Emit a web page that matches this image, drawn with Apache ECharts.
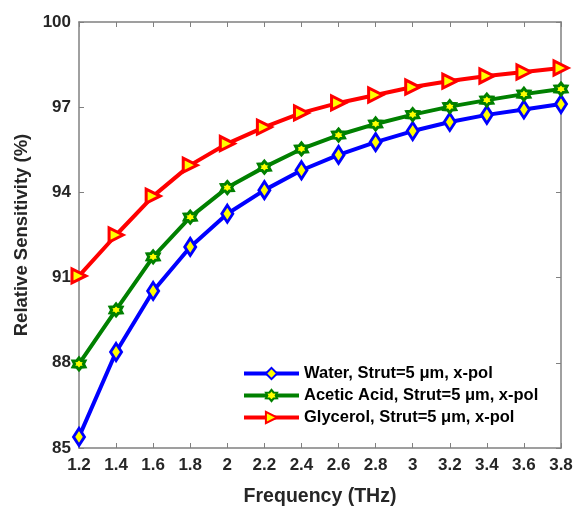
<!DOCTYPE html>
<html>
<head>
<meta charset="utf-8">
<script src="https://cdn.jsdelivr.net/npm/echarts@6/dist/echarts.min.js"></script>
<style>
  html, body { margin: 0; padding: 0; background: #fff; }
  #chart { width: 575px; height: 507px; }
</style>
</head>
<body>
<div id="chart"></div>
<script>
// frequency ticks (THz)
var freq = ['1.2', '1.4', '1.6', '1.8', '2', '2.2', '2.4', '2.6', '2.8', '3', '3.2', '3.4', '3.6', '3.8'];

// relative sensitivity (%)
var water = [85.39, 88.38, 90.53, 92.08, 93.25, 94.08, 94.78, 95.32, 95.77, 96.16, 96.48, 96.73, 96.92, 97.11];
var acetic = [87.96, 89.86, 91.73, 93.13, 94.17, 94.89, 95.53, 96.02, 96.41, 96.74, 97.02, 97.25, 97.46, 97.64];
var glycerol = [91.06, 92.5, 93.87, 94.96, 95.72, 96.3, 96.8, 97.15, 97.43, 97.71, 97.92, 98.1, 98.24, 98.38];

var hexagram = 'path://M0,-10L3.2,-5.5L8.66,-5L6.4,0L8.66,5L3.2,5.5L0,10L-3.2,5.5L-8.66,5L-6.4,0L-8.66,-5L-3.2,-5.5Z';

var myChart = echarts.init(document.getElementById('chart'));

var font = { fontFamily: 'Liberation Sans', fontWeight: 'bold', color: '#262626' };
var axisGray = '#808080';

function line(name, data, color, symbol, size, rotate) {
    return {
        name: name,
        type: 'line',
        data: data,
        symbol: symbol,
        symbolSize: size,
        symbolRotate: rotate,
        showAllSymbol: true,
        lineStyle: { color: color, width: 4 },
        itemStyle: { color: '#ffff00', borderColor: color, borderWidth: 3 },
        z: 3
    };
}

var option = {
    animation: false,
    grid: { left: 79, right: 14, top: 22, bottom: 59, show: false, outerBoundsMode: 'none', containLabel: false },
    legend: {
        orient: 'vertical',
        left: 242,
        top: 365,
        padding: 0,
        itemWidth: 55,
        itemHeight: 14,
        itemGap: 5,
        lineStyle: { width: 4 },
        textStyle: { fontFamily: 'Liberation Sans', fontWeight: 'bold', fontSize: 16.5, color: '#000' },
        data: ['Water, Strut=5 μm, x-pol', 'Acetic Acid, Strut=5 μm, x-pol', 'Glycerol, Strut=5 μm, x-pol']
    },
    xAxis: [{
        type: 'category',
        data: freq,
        boundaryGap: false,
        name: 'Frequency (THz)',
        nameLocation: 'middle',
        nameGap: 39,
        nameTextStyle: Object.assign({ fontSize: 19.5 }, font),
        axisLine: { lineStyle: { color: axisGray, width: 1.5 } },
        axisTick: { inside: true, length: 5, lineStyle: { color: axisGray } },
        axisLabel: Object.assign({ fontSize: 17, margin: 9 }, font),
        splitLine: { show: false }
    }, {
        type: 'category',
        data: freq,
        boundaryGap: false,
        position: 'top',
        axisLine: { lineStyle: { color: axisGray, width: 1.5 } },
        axisTick: { inside: true, length: 5, lineStyle: { color: axisGray } },
        axisLabel: { show: false },
        splitLine: { show: false }
    }],
    yAxis: [{
        type: 'value',
        min: 85,
        max: 100,
        interval: 3,
        name: 'Relative Sensitivity (%)',
        nameLocation: 'middle',
        nameGap: 44,
        nameTextStyle: Object.assign({ fontSize: 18.5 }, font),
        axisLine: { show: true, lineStyle: { color: axisGray, width: 1.5 } },
        axisTick: { show: true, inside: true, length: 5, lineStyle: { color: axisGray } },
        axisLabel: Object.assign({ fontSize: 17, margin: 8 }, font),
        splitLine: { show: false }
    }, {
        type: 'value',
        min: 85,
        max: 100,
        interval: 3,
        position: 'right',
        axisLine: { show: true, lineStyle: { color: axisGray, width: 1.5 } },
        axisTick: { show: true, inside: true, length: 5, lineStyle: { color: axisGray } },
        axisLabel: { show: false },
        splitLine: { show: false }
    }],
    series: [
        line('Water, Strut=5 μm, x-pol', water, '#0000ff', 'diamond', [11, 17], 0),
        line('Acetic Acid, Strut=5 μm, x-pol', acetic, '#008000', hexagram, 12, 0),
        line('Glycerol, Strut=5 μm, x-pol', glycerol, '#ff0000', 'triangle', 14, -90)
    ]
};

myChart.setOption(option);
</script>
</body>
</html>
